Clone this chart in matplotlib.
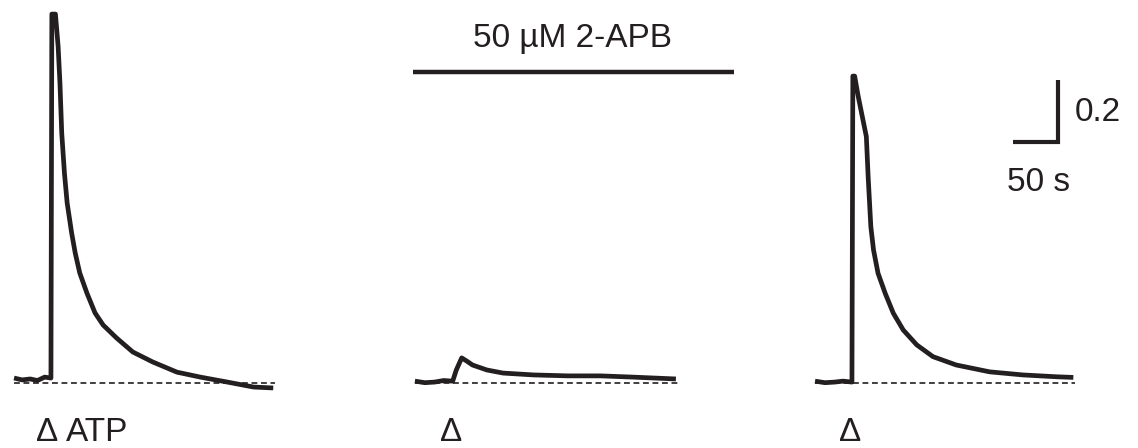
import numpy as np
import matplotlib.pyplot as plt

plt.rcParams["font.family"] = ["Liberation Sans", "DejaVu Sans"]

INK = "#231f20"

# Ratio traces (time in s from the start of each trace, value relative to baseline)
t_ctrl = [0, 9, 18, 26, 34, 41, 42, 46, 49, 51, 53, 56, 59, 64, 68, 73, 81,
          90, 99, 114, 132, 154, 181, 207, 237, 266, 288]
r_ctrl = [0.016, 0.010, 0.013, 0.008, 0.019, 0.016, 1.19, 1.19, 1.085, 0.968,
          0.806, 0.677, 0.581, 0.484, 0.419, 0.355, 0.290, 0.226, 0.187,
          0.145, 0.100, 0.068, 0.035, 0.019, 0.003, -0.013, -0.016]

t_apb = [0, 11, 22, 32, 42, 46, 52, 58, 64, 80, 98, 132, 170, 206, 242, 290]
r_apb = [0.006, 0.001, 0.003, 0.008, 0.006, 0.042, 0.081, 0.070, 0.058, 0.042,
         0.032, 0.026, 0.023, 0.023, 0.019, 0.013]

t_wash = [0, 11, 22, 31, 41, 42, 44, 48, 54, 57, 59, 62, 65, 70, 78, 87, 98,
          113, 131, 157, 194, 231, 269, 287]
r_wash = [0.006, 0.001, 0.003, 0.006, 0.003, 0.99, 0.99, 0.924, 0.838, 0.795,
          0.666, 0.504, 0.429, 0.354, 0.289, 0.225, 0.171, 0.123, 0.085,
          0.058, 0.036, 0.026, 0.020, 0.018]

traces = [(t_ctrl, r_ctrl), (t_apb, r_apb), (t_wash, r_wash)]
starts = [15.6, 461.0, 905.6]      # s, horizontal placement of each trace
stim_at = [36.6, 40.1, 38.9]       # s after trace start, where the marker sits

scale_t = 50     # s
scale_r = 0.2


# figure is laid out with 0.9 px per s and 310 px per ratio unit
def X(px):
    return px / 0.9


def Y(py):
    return (383 - py) / 310


fig = plt.figure(figsize=(11.38, 4.48), dpi=100)
ax = fig.add_axes([0, 0, 1, 1])
ax.set_xlim(X(0), X(1138))
ax.set_ylim(Y(448), Y(0))
ax.axis("off")

for (t, r), t0, ts in zip(traces, starts, stim_at):
    t = np.asarray(t) + t0
    ax.plot(t, r, color=INK, lw=3.4, solid_joinstyle="round",
            solid_capstyle="butt")
    ax.plot([t[0], t[-1] + 2], [0, 0], color=INK, lw=1.2,
            dashes=(3.5, 2.2))
    ax.text(t0 + ts, Y(448), "Δ", ha="center", va="bottom",
            fontsize=24, color=INK)

ax.text(X(66), Y(448), "ATP", ha="left", va="bottom", fontsize=24,
        color=INK)

# 2-APB application bar
ax.plot([X(413), X(734)], [Y(72), Y(72)], color=INK, lw=3.2,
        solid_capstyle="butt")
ax.text(X(572), Y(47), "50 µM 2-APB", ha="center", va="baseline",
        fontsize=24, color=INK)

# scale bar
sx, sy = X(1058), Y(142)
ax.plot([sx - scale_t, sx, sx], [sy, sy, sy + scale_r], color=INK, lw=3.0,
        solid_joinstyle="miter", solid_capstyle="butt")
ax.text(X(1075), Y(121), "0.2", ha="left", va="baseline", fontsize=24,
        color=INK)
ax.text(X(1039), Y(191), "50 s", ha="center", va="baseline", fontsize=24,
        color=INK)

fig.savefig("out.png", dpi=100)
